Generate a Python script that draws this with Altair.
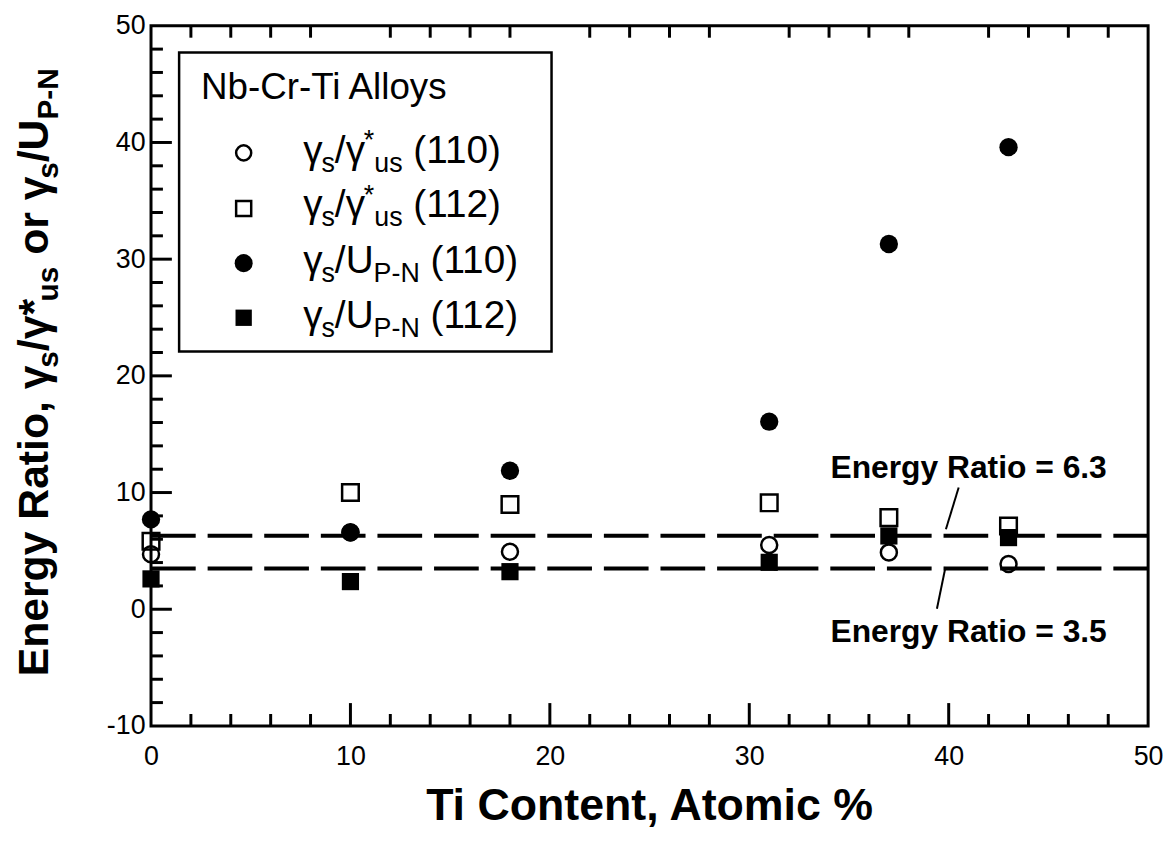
import altair as alt
import pandas as pd

# ---------------- data ----------------
ti = [0, 10, 18, 31, 37, 43]
open_circle_110 = [4.72, 6.6, 4.92, 5.51, 4.87, 3.87]      # gamma_s / gamma*_us (110)
open_square_112 = [5.83, 10.0, 8.98, 9.12, 7.85, 7.13]     # gamma_s / gamma*_us (112)
filled_circle_110 = [7.7, 6.57, 11.87, 16.07, 31.3, 39.6]  # gamma_s / U_P-N (110)
filled_square_112 = [2.6, 2.37, 3.22, 4.02, 6.28, 6.14]    # gamma_s / U_P-N (112)

ref_levels = [6.3, 3.5]
ref_labels = ["Energy Ratio = 6.3", "Energy Ratio = 3.5"]
ref_label_x = [41.0, 41.0]
ref_label_y = [11.28, -2.77]
leader_x = [40.5, 39.84]
leader_x2 = [39.86, 39.41]
leader_y = [10.43, 3.62]
leader_y2 = [6.85, 0.04]

x_major = [10, 20, 30, 40]
x_minor = [v for v in range(2, 50, 2) if v % 10 != 0]
y_major = [0, 10, 20, 30, 40]
y_minor = [v for v in range(-8, 50, 2) if v % 10 != 0]
x_labels = [0, 10, 20, 30, 40, 50]
y_labels = [-10, 0, 10, 20, 30, 40, 50]

legend_title = "Nb-Cr-Ti Alloys"
legend_rows = [
    [("γ", "m"), ("s", "sub"), ("/γ", "m"), ("*", "sup"), ("us", "sub"), (" (110)", "m")],
    [("γ", "m"), ("s", "sub"), ("/γ", "m"), ("*", "sup"), ("us", "sub"), (" (112)", "m")],
    [("γ", "m"), ("s", "sub"), ("/U", "m"), ("P-N", "sub"), (" (110)", "m")],
    [("γ", "m"), ("s", "sub"), ("/U", "m"), ("P-N", "sub"), (" (112)", "m")],
]
ytitle_pieces = [("Energy Ratio, γ", "m"), ("s", "sub"), ("/γ*", "m"), ("us", "sub"),
                 (" or γ", "m"), ("s", "sub"), ("/U", "m"), ("P-N", "sub")]
xtitle = "Ti Content, Atomic %"

# ---------------- layout ----------------
W, H = 1004, 705
XMIN, XMAX, YMIN, YMAX = 0, 50, -10, 50
FONT = "Liberation Sans"

REG = {" ": .278, "(": .333, ")": .333, "/": .278, "*": .389, "u": .556, "s": .5,
       "U": .722, "P": .667, "-": .333, "N": .722, "γ": .47}
BOLD = {"E": .667, "n": .611, "e": .556, "r": .389, "g": .611, "y": .556, " ": .278,
        "R": .722, "a": .556, "t": .333, "i": .278, "o": .611, ",": .278, "/": .278,
        "*": .389, "u": .611, "s": .556, "U": .722, "P": .667, "-": .333, "N": .722, "γ": .5}


def tw(s, size, bold):
    t = BOLD if bold else REG
    return sum(t.get(c, .556) for c in s) * size


def to_dx(px):
    return XMIN + px / W * (XMAX - XMIN)


def to_dy(py):
    return YMAX - py / H * (YMAX - YMIN)


def compose(pieces, x0, y0, main, sub, bold, rotated, sub_dy, sup_dy=0):
    rows, pos = [], 0.0
    for text, kind in pieces:
        size = main if kind == "m" else sub
        lead = len(text) - len(text.lstrip(" "))
        pos += tw(" " * lead, size, bold)
        text = text.lstrip(" ")
        shift = 0 if kind == "m" else (sub_dy if kind == "sub" else sup_dy)
        if rotated:
            px, py = x0 + shift, y0 - pos
        else:
            px, py = x0 + pos, y0 + shift
        rows.append({"x": to_dx(px), "y": to_dy(py), "text": text,
                     "size": "m" if kind == "m" else "s"})
        pos += tw(text, size, bold)
    return rows


xs = alt.Scale(domain=[XMIN, XMAX], nice=False, zero=False)
ys = alt.Scale(domain=[YMIN, YMAX], nice=False, zero=False)
xaxis = alt.Axis(values=x_labels, ticks=False, domain=False, grid=False, labelFontSize=27,
                 labelFont=FONT, labelColor="black", labelPadding=18, title=None,
                 labelFlush=False, labelExpr="'' + datum.value")
yaxis = alt.Axis(values=y_labels, ticks=False, domain=False, grid=False, labelFontSize=27,
                 labelFont=FONT, labelColor="black", labelPadding=6, title=None,
                 labelFlush=False, labelExpr="'' + datum.value")


def X(f="x"):
    return alt.X(f, type="quantitative", scale=xs, axis=xaxis)


def Y(f="y"):
    return alt.Y(f, type="quantitative", scale=ys, axis=yaxis)


layers = []

# reference dashed lines
ref_df = pd.DataFrame({"y": ref_levels, "x": [XMIN] * 2, "x2": [XMAX] * 2})
layers.append(alt.Chart(ref_df).mark_rule(color="black", strokeWidth=4, strokeDash=[45, 12],
                                          strokeCap="butt")
              .encode(x=X(), x2="x2", y=Y()))

# leader lines
lead_df = pd.DataFrame({"x": leader_x, "x2": leader_x2, "y": leader_y, "y2": leader_y2})
layers.append(alt.Chart(lead_df).mark_rule(color="black", strokeWidth=2)
              .encode(x=X(), x2="x2", y=Y(), y2="y2"))


# inward ticks
def tick_layer(vals, orient, length):
    if orient in ("bottom", "top"):
        y0 = YMIN if orient == "bottom" else YMAX
        y1 = to_dy(H - length) if orient == "bottom" else to_dy(length)
        df = pd.DataFrame({"x": vals, "y": [y0] * len(vals), "y2": [y1] * len(vals)})
        return (alt.Chart(df).mark_rule(color="black", strokeWidth=3)
                .encode(x=X(), y=Y(), y2="y2"))
    df = pd.DataFrame({"y": vals, "x": [XMIN] * len(vals), "x2": [to_dx(length)] * len(vals)})
    return (alt.Chart(df).mark_rule(color="black", strokeWidth=3)
            .encode(y=Y(), x=X(), x2="x2"))


layers += [tick_layer(x_major, "bottom", 23), tick_layer(x_minor, "bottom", 12),
           tick_layer(x_minor, "top", 12),
           tick_layer(y_major, "left", 21), tick_layer(y_minor, "left", 12)]


def marker(df, shape, filled, size):
    if filled:
        m = alt.Chart(df).mark_point(shape=shape, filled=True, fill="black", stroke="black",
                                     strokeWidth=0, size=size, opacity=1)
    else:
        m = alt.Chart(df).mark_point(shape=shape, filled=False, stroke="black",
                                     strokeWidth=2.5, size=size, opacity=1)
    return m.encode(x=X(), y=Y())


series = [(open_circle_110, "circle", False, 260),
          (filled_square_112, "square", True, 300),
          (filled_circle_110, "circle", True, 340),
          (open_square_112, "square", False, 280)]
for vals, shape, filled, size in series:
    layers.append(marker(pd.DataFrame({"x": ti, "y": vals}), shape, filled, size))

# legend box
box = pd.DataFrame({"x": [to_dx(28.3)], "x2": [to_dx(403.3)],
                    "y": [to_dy(27)], "y2": [to_dy(328)]})
layers.append(alt.Chart(box).mark_rect(fill=None, stroke="black", strokeWidth=2.5)
              .encode(x=X(), x2="x2", y=Y(), y2="y2"))

# legend symbols
sym_py = [128, 184, 239, 294]
sym_spec = [("circle", False, 230), ("square", False, 230), ("circle", True, 330),
            ("square", True, 270)]
for py, (shape, filled, size) in zip(sym_py, sym_spec):
    layers.append(marker(pd.DataFrame({"x": [to_dx(93.3)], "y": [to_dy(py)]}),
                         shape, filled, size))

# legend text
head = pd.DataFrame({"x": [to_dx(50.3)], "y": [to_dy(74)], "text": [legend_title]})
layers.append(alt.Chart(head).mark_text(font=FONT, fontSize=37, align="left",
                                        baseline="alphabetic", color="black")
              .encode(x=X(), y=Y(), text="text"))
leg_rows = []
for py, pieces in zip([138, 193, 249, 304], legend_rows):
    leg_rows += compose(pieces, 153.3, py, 39, 27, False, False, 9, -14)
leg_df = pd.DataFrame(leg_rows)
for sz, fs in [("m", 39), ("s", 27)]:
    layers.append(alt.Chart(leg_df[leg_df["size"] == sz])
                  .mark_text(font=FONT, fontSize=fs, align="left", baseline="alphabetic",
                             color="black")
                  .encode(x=X(), y=Y(), text="text"))

# y title (rotated)
yt_df = pd.DataFrame(compose(ytitle_pieces, 48 - 151.7, 655, 43, 30, True, True, 10))
for sz, fs in [("m", 43), ("s", 30)]:
    layers.append(alt.Chart(yt_df[yt_df["size"] == sz])
                  .mark_text(font=FONT, fontSize=fs, fontWeight="bold", align="left",
                             baseline="alphabetic", angle=270, color="black")
                  .encode(x=X(), y=Y(), text="text"))

# x title
xt_df = pd.DataFrame({"x": [to_dx(W / 2)], "y": [to_dy(800)], "text": [xtitle]})
layers.append(alt.Chart(xt_df).mark_text(font=FONT, fontSize=45, fontWeight="bold",
                                         align="center", baseline="alphabetic", color="black")
              .encode(x=X(), y=Y(), text="text"))

# annotations
ann_df = pd.DataFrame({"x": ref_label_x, "y": ref_label_y, "text": ref_labels})
layers.append(alt.Chart(ann_df).mark_text(font=FONT, fontSize=32, fontWeight="bold",
                                          align="center", baseline="alphabetic", color="black")
              .encode(x=X(), y=Y(), text="text"))

chart = (alt.layer(*layers)
         .properties(width=W, height=H,
                     autosize=alt.AutoSizeParams(type="none"),
                     padding={"left": 144, "top": 15, "right": 17, "bottom": 118},
                     background="white")
         .configure_view(stroke="black", strokeWidth=3))

chart.save("out.html", embed_options={"renderer": "svg", "actions": False})
